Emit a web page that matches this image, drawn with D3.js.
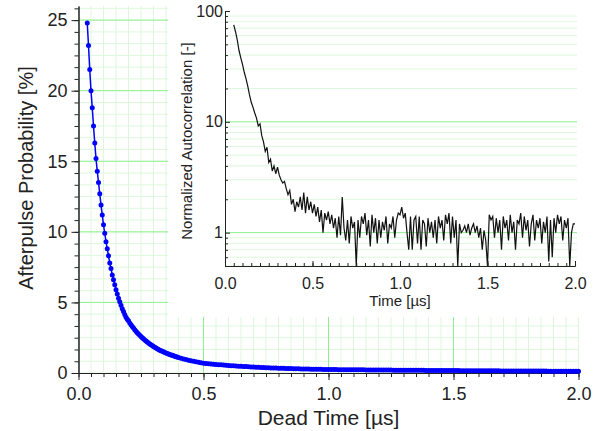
<!DOCTYPE html>
<html>
<head>
<meta charset="utf-8">
<script src="https://cdn.jsdelivr.net/npm/d3@7"></script>
<style>
body { margin: 0; background: #fff; }
text { font-family: "Liberation Sans", Arial, sans-serif; fill: #222; }
</style>
</head>
<body>
<div id="chart"></div>
<script>
// ---- main curve: afterpulse probability vs dead time ----
var deadTimeFine = d3.range(0.035, 0.4001, 0.005)
var afterpulseFine = [
  24.8, 23.2, 21.5, 20.0, 18.8, 17.5, 16.3, 15.2, 14.3, 13.5,
  12.7, 11.9, 11.2, 10.5, 9.9, 9.3, 8.8, 8.3, 7.8, 7.4,
  6.95, 6.6, 6.25, 5.9, 5.6, 5.3, 5.05, 4.8, 4.55, 4.35,
  4.15, 3.95, 3.8, 3.7, 3.55, 3.42, 3.3, 3.18, 3.07, 2.96,
  2.86, 2.76, 2.67, 2.58, 2.5, 2.42, 2.34, 2.27, 2.2, 2.13,
  2.06, 2.0, 1.94, 1.88, 1.83, 1.77, 1.72, 1.67, 1.62, 1.58,
  1.54, 1.5, 1.46, 1.42, 1.38, 1.35, 1.31, 1.28, 1.25, 1.22,
  1.19, 1.16, 1.13, 1.1
]
var deadTimeCoarse = d3.range(0.41, 2.0001, 0.01)
var afterpulseCoarse = [
  1.05, 1.0, .955, .91, .87, .83, .79, .755, .72, .69,
  .672, .655, .638, .622, .606, .591, .576, .562, .548, .535,
  .522, .509, .497, .485, .474, .463, .452, .442, .432, .422,
  .413, .404, .395, .387, .379, .371, .363, .356, .349, .342,
  .335, .329, .323, .317, .311, .305, .300, .295, .290, .285,
  .280, .276, .272, .268, .264, .260, .257, .254, .251, .248,
  .243, .241, .240, .238, .236, .235, .233, .231, .230, .228,
  .226, .225, .223, .222, .220, .218, .217, .215, .214, .212,
  .211, .209, .208, .206, .205, .203, .202, .200, .199, .197,
  .196, .195, .193, .192, .190, .189, .188, .186, .185, .184,
  .182, .181, .180, .179, .177, .176, .175, .174, .172, .171,
  .170, .169, .168, .166, .165, .164, .163, .162, .161, .160,
  .159, .157, .156, .155, .154, .153, .152, .151, .150, .149,
  .148, .147, .146, .145, .144, .143, .142, .141, .140, .139,
  .138, .137, .136, .135, .134, .134, .133, .132, .131, .130,
  .129, .128, .128, .127, .126, .125, .124, .124, .123, .122
]

// ---- inset: normalized autocorrelation vs time ----
var insetTime = d3.range(0.05, 2.0001, 0.01)
var autocorr = [
  75, 65, 55, 44, 38, 33, 28, 24.5, 21, 17.5,
  15, 13.5, 12, 10.8, 9.2, 9.6, 7.5, 6.6, 5.4, 5.9,
  4.3, 4.6, 3.6, 4.0, 3.4, 3.9, 3.3, 3.0, 2.8, 2.9,
  2.5, 2.2, 2.4, 1.8, 2.0, 1.55, 1.9, 1.7, 2.1, 1.6,
  2.3, 1.5, 2.1, 1.6, 1.9, 1.5, 1.8, 1.4, 1.7, 1.25,
  1.6, 1.0, 1.5, 1.3, 1.55, 1.2, 1.45, 1.1, 1.35, 0.9,
  1.4, 0.95, 2.1, 1.1, 0.85, 1.3, 0.8, 1.4, 1.1, 1.25,
  0.5, 1.3, 0.9, 1.4, 1.2, 1.5, 0.95, 1.3, 0.75, 1.45,
  1.0, 1.35, 0.8, 1.3, 0.9, 1.25, 1.05, 1.4, 0.8, 1.2,
  1.1, 1.4, 0.9, 1.3, 1.5, 1.45, 1.7, 1.35, 1.5, 1.0,
  0.7, 1.4, 0.7, 1.3, 1.4, 0.8, 1.4, 0.7, 1.3, 1.2,
  0.75, 1.35, 1.0, 1.25, 0.9, 1.3, 0.8, 1.4, 1.1, 1.3,
  0.85, 1.45, 1.2, 1.5, 0.8, 1.4, 0.9, 1.3, 0.5, 1.2,
  1.0, 1.05, 1.15, 1.0, 1.2, 0.95, 1.1, 1.2, 1.0, 1.15,
  0.9, 1.1, 0.7, 1.05, 0.85, 0.5, 1.45, 1.3, 1.4, 0.9,
  1.35, 1.0, 1.3, 0.7, 1.4, 1.1, 1.3, 0.85, 1.45, 1.0,
  1.25, 0.7, 1.3, 1.2, 1.5, 0.9, 1.4, 1.05, 1.3, 0.75,
  1.2, 1.45, 0.85, 1.3, 1.1, 1.35, 0.8, 1.25, 1.0, 1.4,
  0.55, 1.3, 0.6, 1.35, 1.0, 1.45, 1.2, 1.4, 0.85, 1.3,
  1.1, 1.35, 0.5, 1.0, 1.2, 1.2
]

// ticks
var mainXTicks = [0, 0.5, 1.0, 1.5, 2.0]
var mainYTicks = [0, 5, 10, 15, 20, 25]
var insetXTicks = [0, 0.5, 1.0, 1.5, 2.0]
var insetYTicks = [1, 10, 100]

var majorGreen = "#8ef08e", minorGreen = "#ddf8dd"

var svg = d3.select("#chart").append("svg").attr("width", 602).attr("height", 431)

var x = d3.scaleLinear().domain([0, 2]).range([78.5, 578.5])
var y = d3.scaleLinear().domain([0, 26]).range([373, 6])

var mainData = deadTimeFine.map(function(t, i) { return {t: t, v: afterpulseFine[i]} })
  .concat(deadTimeCoarse.map(function(t, i) { return {t: t, v: afterpulseCoarse[i]} }))

var xMinor = d3.range(0, 2.0001, 0.05)
var yMinor = d3.range(0, 26.001, 5 / 6)

// main grid
var grid = svg.append("g")
grid.selectAll(".vmin").data(xMinor).enter().append("line")
  .attr("x1", d => x(d)).attr("x2", d => x(d)).attr("y1", y(26)).attr("y2", y(0))
  .attr("stroke", minorGreen)
grid.selectAll(".hmin").data(yMinor).enter().append("line")
  .attr("x1", x(0)).attr("x2", x(2)).attr("y1", d => y(d)).attr("y2", d => y(d))
  .attr("stroke", minorGreen)
grid.selectAll(".vmaj").data(mainXTicks.slice(1, 4)).enter().append("line")
  .attr("x1", d => x(d)).attr("x2", d => x(d)).attr("y1", y(26)).attr("y2", y(0))
  .attr("stroke", majorGreen)
grid.selectAll(".hmaj").data(mainYTicks.slice(1)).enter().append("line")
  .attr("x1", x(0)).attr("x2", x(2)).attr("y1", d => y(d)).attr("y2", d => y(d))
  .attr("stroke", majorGreen)

// main axes
function styleAxis(g) {
  g.selectAll("path, line").attr("stroke", "#222")
  g.selectAll("text").style("font-size", "18px").attr("fill", "#222")
}
svg.append("g").attr("transform", "translate(0," + y(0) + ")")
  .call(d3.axisBottom(x).tickValues(xMinor).tickSize(4).tickSizeOuter(0).tickFormat(""))
  .call(styleAxis)
svg.append("g").attr("transform", "translate(0," + y(0) + ")")
  .call(d3.axisBottom(x).tickValues(mainXTicks).tickSize(7).tickSizeOuter(0).tickPadding(7).tickFormat(d3.format(".1f")))
  .call(styleAxis)
svg.append("g").attr("transform", "translate(" + x(0) + ",0)")
  .call(d3.axisLeft(y).tickValues(yMinor).tickSize(4).tickSizeOuter(0).tickFormat(""))
  .call(styleAxis)
svg.append("g").attr("transform", "translate(" + x(0) + ",0)")
  .call(d3.axisLeft(y).tickValues(mainYTicks).tickSize(7).tickSizeOuter(0).tickPadding(4).tickFormat(d3.format("d")))
  .call(styleAxis)

// main curve
var line = d3.line().x(d => x(d.t)).y(d => y(d.v))
svg.append("path").datum(mainData).attr("d", line)
  .attr("fill", "none").attr("stroke", "#0000ff").attr("stroke-width", 1.5)
svg.append("g").selectAll("circle").data(mainData).enter().append("circle")
  .attr("cx", d => x(d.t)).attr("cy", d => y(d.v)).attr("r", 2.5).attr("fill", "#0000ff")

svg.append("text").attr("x", (x(0) + x(2)) / 2).attr("y", 425).attr("text-anchor", "middle")
  .style("font-size", "21px").text("Dead Time [\u00b5s]")
svg.append("text").attr("transform", "translate(33," + 178 + ") rotate(-90)").attr("text-anchor", "middle")
  .style("font-size", "20px").text("Afterpulse Probability [%]")

// ---- inset ----
svg.append("rect").attr("x", 168).attr("y", 0).attr("width", 434).attr("height", 317).attr("fill", "#fff")

var ix = d3.scaleLinear().domain([0, 2]).range([225, 575])
var iy = d3.scaleLog().domain([0.5, 100]).range([266, 11])

var iyMinor = [0.5, 0.6, 0.7, 0.8, 0.9, 2, 3, 4, 5, 6, 7, 8, 9, 20, 30, 40, 50, 60, 70, 80, 90]
var ixMinor = d3.range(0, 2.0001, 0.05)

var igrid = svg.append("g")
igrid.selectAll("line").data(iyMinor.concat(insetYTicks.slice(0, 2))).enter().append("line")
  .attr("x1", ix(0)).attr("x2", ix(2) + 2).attr("y1", d => iy(d)).attr("y2", d => iy(d))
  .attr("stroke", d => (d === 1 || d === 10) ? majorGreen : minorGreen)

svg.append("defs").append("clipPath").attr("id", "iclip").append("rect")
  .attr("x", ix(0)).attr("y", iy(100)).attr("width", ix(2) - ix(0)).attr("height", iy(0.5) - iy(100))
var iline = d3.line().x((d, i) => ix(insetTime[i])).y(d => iy(Math.max(d, 0.5)))
svg.append("path").datum(autocorr).attr("d", iline).attr("clip-path", "url(#iclip)")
  .attr("fill", "none").attr("stroke", "#111").attr("stroke-width", 1.2)

function styleInset(g) {
  g.selectAll("path, line").attr("stroke", "#222")
  g.selectAll("text").style("font-size", "16px").attr("fill", "#222")
}
svg.append("g").attr("transform", "translate(0," + iy(0.5) + ")")
  .call(d3.axisBottom(ix).tickValues(ixMinor).tickSize(-3).tickSizeOuter(0).tickFormat(""))
  .call(styleInset)
svg.append("g").attr("transform", "translate(0," + iy(0.5) + ")")
  .call(d3.axisBottom(ix).tickValues(insetXTicks).tickSize(-5).tickSizeOuter(0).tickPadding(12).tickFormat(d3.format(".1f")))
  .call(styleInset)
svg.append("g").attr("transform", "translate(" + ix(0) + ",0)")
  .call(d3.axisLeft(iy).tickValues(iyMinor).tickSize(-3).tickSizeOuter(0).tickFormat(""))
  .call(styleInset)
svg.append("g").attr("transform", "translate(" + ix(0) + ",0)")
  .call(d3.axisLeft(iy).tickValues(insetYTicks).tickSize(-5).tickSizeOuter(0).tickPadding(2).tickFormat(d3.format("d")))
  .call(styleInset)

svg.append("text").attr("x", (ix(0) + ix(2)) / 2).attr("y", 306).attr("text-anchor", "middle")
  .style("font-size", "15px").text("Time [\u00b5s]")
svg.append("text").attr("transform", "translate(192," + 141 + ") rotate(-90)").attr("text-anchor", "middle")
  .style("font-size", "15px").text("Normalized Autocorrelation [-]")
</script>
</body>
</html>
